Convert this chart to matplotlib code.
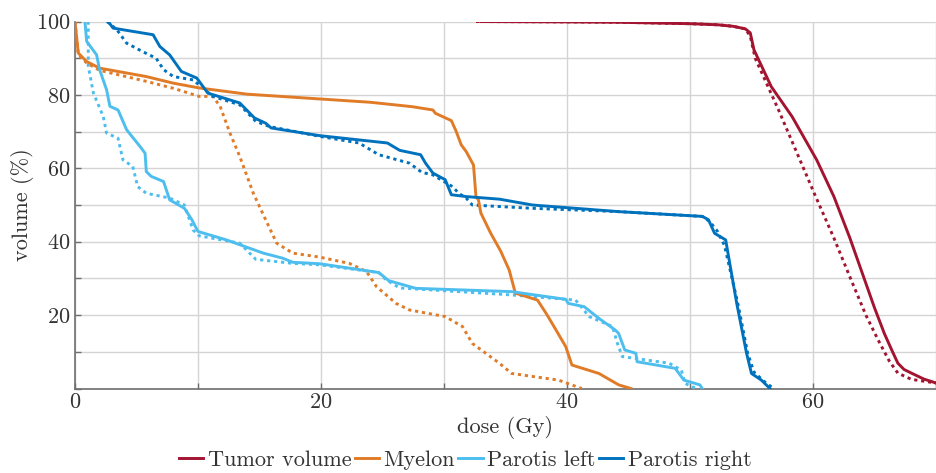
import matplotlib
matplotlib.use("Agg")
import matplotlib.pyplot as plt
from matplotlib.ticker import MultipleLocator, FixedLocator

plt.rcParams['font.family'] = ['cmr10', 'DejaVu Serif']
plt.rcParams['axes.formatter.use_mathtext'] = True
plt.rcParams['mathtext.fontset'] = 'cm'

# ---------------- data ----------------
labels = ["Tumor volume", "Myelon", "Parotis left", "Parotis right"]
colors = ["#A2142F", "#E07B28", "#4DBEEE", "#0072BD"]

tumor_x = [33.0, 40, 44.2, 50.1, 52.3, 53.5, 54.5, 54.9, 55.2, 56.6, 58.3, 60.3, 61.7, 63.0, 64.2, 65.0, 65.8, 66.4, 66.9, 67.4, 68, 69, 70]
tumor_y = [100, 99.9, 99.8, 99.4, 99.1, 98.7, 98, 96.9, 92.3, 82.3, 74.1, 62.3, 52.3, 41, 29.6, 22, 15, 10.5, 6.9, 5.2, 4.2, 2.6, 1.5]
tumor_dx = [32.6, 40, 44.2, 50.1, 52.3, 53.5, 54.5, 54.9, 55.3, 57.2, 60.1, 61.7, 63.1, 64.3, 65.3, 66.2, 66.9, 68, 70]
tumor_dy = [100, 99.9, 99.8, 99.4, 99.1, 98.7, 98, 96.0, 90, 75.9, 53.2, 41, 29.6, 20, 13.2, 7.5, 4.2, 2.5, 1.5]

myelon_x = [0, 0.27, 0.95, 2.0, 5.8, 8.0, 10.1, 14, 19.9, 24, 27.4, 29.1, 29.3, 30.6, 31.0, 31.4, 31.8, 32.4, 32.6, 32.8, 33.0, 33.8, 34.6, 35.3, 35.8, 37.6, 38.3, 39.1, 39.9, 40.4, 42.6, 44.2, 45.2]
myelon_y = [100, 91.4, 89.1, 87.3, 85, 83.2, 81.9, 80.2, 78.9, 78.0, 76.8, 75.9, 75.0, 73, 70, 66.4, 64.6, 60.9, 52.3, 51.4, 47.8, 42.3, 37.5, 32.3, 26, 24.1, 20.5, 16, 11.4, 6.4, 4.1, 1, 0]
myelon_dx = [0, 0.27, 0.95, 2.0, 5.8, 8.0, 10.1, 11.2, 11.8, 12.6, 13.4, 14.5, 15.5, 16.4, 17.7, 19.9, 22.3, 23.7, 24.5, 26.1, 27.2, 30.1, 31.5, 32.3, 34.5, 35.5, 39.3, 41.2]
myelon_dy = [100, 91.0, 88.7, 86.7, 83.7, 81.8, 79.6, 79.6, 76.9, 69.6, 63.2, 53.2, 46, 39.6, 36.9, 35.8, 34.1, 31.9, 27.8, 23.2, 21.4, 19.6, 16.9, 12.3, 6.9, 4.1, 2.3, 0]

pleft_x = [0.81, 0.95, 1.76, 2.0, 2.57, 2.84, 3.5, 4.2, 5.3, 5.7, 5.8, 6.2, 7.2, 7.7, 8.9, 9.5, 10.0, 12.3, 15.3, 16.9, 17.7, 19.9, 24.7, 25.5, 27.7, 35.5, 39.9, 40.1, 41.4, 42.6, 43.9, 44.2, 44.7, 45.6, 45.7, 48.8, 49.5, 50.8, 51.0]
pleft_y = [100, 94.6, 90.9, 86.9, 81.4, 76.9, 75.9, 70.5, 65.9, 64.1, 59.1, 57.8, 56.4, 51.4, 49.1, 46, 42.8, 40.5, 36.9, 35.5, 34.4, 34.0, 31.6, 29.4, 27.3, 26.4, 24.3, 23.2, 22.3, 19.1, 16, 15, 10.5, 9.6, 7.3, 5.5, 2.3, 1, 0]
pleft_dx = [1.08, 1.08, 1.5, 2.3, 2.57, 3.5, 3.9, 4.7, 5.1, 5.8, 7.7, 8.9, 9.6, 10.1, 13.4, 14.7, 17.7, 19.9, 24.7, 25.3, 26.4, 35.5, 40.7, 41.8, 43.7, 44.1, 44.5, 48.3, 49.3, 49.6, 50.5]
pleft_dy = [100, 87.8, 80.5, 74.1, 69.6, 68.2, 62.3, 60.5, 55, 53.2, 51.9, 50, 43.2, 41.6, 39.6, 35.2, 34.1, 33.7, 31.6, 29.6, 27.4, 25.5, 24.1, 19.6, 16.9, 12.3, 8.7, 6.9, 5, 1.4, 0]

pright_x = [2.7, 3.1, 6.35, 6.9, 7.7, 8.65, 9.9, 10.8, 13.4, 14.6, 15.5, 15.95, 19.9, 25.4, 26.4, 28.1, 28.5, 29.1, 30.1, 30.6, 31.8, 34.5, 37.2, 44.2, 51.0, 51.5, 52.0, 52.9, 53.8, 54.6, 55.0, 55.8, 56.5]
pright_y = [100, 98.2, 96.4, 93.2, 90.9, 86.4, 84.6, 80.5, 77.8, 73.7, 72.3, 71.0, 68.9, 66.9, 64.9, 63.7, 61.4, 58.7, 56.9, 52.8, 52.3, 51.6, 50.0, 48.2, 46.9, 46.0, 42.3, 40.5, 23.2, 9.6, 4.1, 2.3, 0]
pright_dx = [2.6, 3.4, 4.2, 5.5, 6.6, 7.2, 8.0, 9.6, 11.2, 13.4, 14.7, 15.8, 19.9, 23.1, 24.7, 27.2, 28.2, 29.1, 30.7, 31.2, 31.8, 32.3, 37.2, 44.2, 51.0, 51.6, 52.2, 52.8, 53.9, 54.7, 55.2, 56.0, 56.8]
pright_dy = [100, 97.8, 94.1, 91.8, 90, 86.9, 85, 84.1, 79.6, 77.3, 72.8, 71.4, 68.7, 66.9, 63.7, 61.4, 58.9, 58.2, 55, 53.2, 51.9, 50, 49.1, 48.2, 46.9, 45.5, 43, 39, 23, 9.5, 4.5, 2.0, 0]

solid = [(tumor_x, tumor_y), (myelon_x, myelon_y), (pleft_x, pleft_y), (pright_x, pright_y)]
dotted = [(tumor_dx, tumor_dy), (myelon_dx, myelon_dy), (pleft_dx, pleft_dy), (pright_dx, pright_dy)]

x_major = [0, 20, 40, 60]
y_major = [20, 40, 60, 80, 100]

# ---------------- figure ----------------
fig = plt.figure(figsize=(9.36, 4.73), dpi=100)
ax = fig.add_axes([0.0801, 0.1786, 0.9199, 0.7759])

lw = 2.1
for (sx, sy), (dx, dy), c, lab in zip(solid, dotted, colors, labels):
    ax.plot(dx, dy, color=c, lw=lw, linestyle=(0, (1.1, 1.3)), zorder=3)
    ax.plot(sx, sy, color=c, lw=lw, label=lab, zorder=4)

ax.set_xlim(0, 70)
ax.set_ylim(0, 100)
ax.xaxis.set_major_locator(FixedLocator(x_major))
ax.xaxis.set_minor_locator(MultipleLocator(10))
ax.yaxis.set_major_locator(FixedLocator(y_major))
ax.yaxis.set_minor_locator(MultipleLocator(10))
ax.grid(True, which='both', color='#d4d4d4', lw=1.0, zorder=0)
ax.set_axisbelow(True)

for s in ['top', 'right']:
    ax.spines[s].set_visible(False)
for s in ['left', 'bottom']:
    ax.spines[s].set_color('#6e6e6e')
    ax.spines[s].set_linewidth(1.2)

fs = 16
ax.tick_params(which='both', direction='in', colors='#6e6e6e', labelcolor='#333333',
               labelsize=fs, length=4, width=1.0, pad=3)
ax.tick_params(which='minor', length=4)

ax.set_xlabel("dose (Gy)", fontsize=fs, color='#333333', labelpad=3)
ax.set_ylabel("volume (%)", fontsize=fs, color='#333333', labelpad=2)

leg = fig.legend(loc='center', bbox_to_anchor=(0.497, 0.028), ncol=4, frameon=False,
                 fontsize=fs, handlelength=1.1, handletextpad=0.2, columnspacing=0.15,
                 borderaxespad=0, borderpad=0)
for t in leg.get_texts():
    t.set_color('#333333')

fig.savefig("out.png", dpi=100)
